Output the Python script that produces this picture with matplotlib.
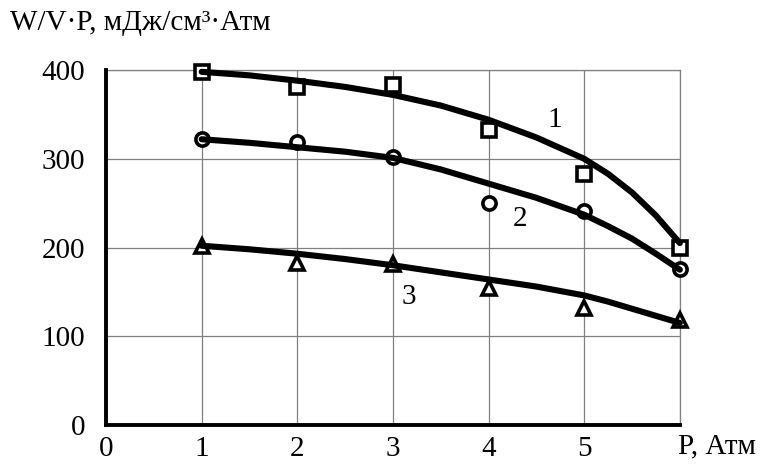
import matplotlib
matplotlib.use("Agg")
import matplotlib.pyplot as plt

plt.rcParams["font.family"] = ["Liberation Serif", "DejaVu Serif"]

# measured points
p = [1, 2, 3, 4, 5, 6]
w1 = [398, 381, 383, 332, 283, 199]
w2 = [322, 319, 302, 250, 241, 176]
w3 = [202, 182, 181, 154, 132, 118]

# fitted curves
p_fit = [1, 1.5, 2, 2.5, 3, 3.5, 4, 4.5, 5, 5.25, 5.5, 5.75, 6]
fit1 = [398, 394, 388, 381, 372, 360, 344, 324, 300, 283, 262, 236, 205]
fit2 = [322, 318, 313, 308, 301, 288, 272, 256, 237, 224, 210, 193, 175]
fit3 = [202, 198, 193, 187, 180, 172, 164, 156, 146, 139, 131, 123, 115]

curve_labels = ["1", "2", "3"]
label_pos = [(4.69, 344), (4.33, 232), (3.17, 144)]

xtick_labels = ["0", "1", "2", "3", "4", "5"]
y_label = "W/V·P, мДж/см³·Атм"
x_label = "P, Атм"

fig = plt.figure(figsize=(7.63, 4.72), dpi=100)
ax = fig.add_axes([0.139, 0.0996, 0.752, 0.752])

for xs, ys, m, ms in [(p, w1, "s", 10), (p, w2, "o", 9.5), (p, w3, "^", 10)]:
    ax.plot(xs, ys, linestyle="none", marker=m, markersize=ms,
            markerfacecolor="white", markeredgecolor="black",
            markeredgewidth=2.6, zorder=3, clip_on=False)
for ys in (fit1, fit2, fit3):
    ax.plot(p_fit, ys, color="black", linewidth=4.4,
            solid_capstyle="round", solid_joinstyle="round", zorder=4,
            clip_on=False)

for txt, (x, y) in zip(curve_labels, label_pos):
    ax.text(x, y, txt, fontsize=21, ha="center", va="center")

ax.set_xlim(0, 6)
ax.set_ylim(0, 400)
ax.set_xticks(range(7))
ax.set_xticklabels(xtick_labels + [""])
ax.set_yticks([0, 100, 200, 300, 400])
ax.tick_params(length=0, labelsize=21)
ax.tick_params(axis="x", pad=8)
ax.tick_params(axis="y", pad=15)
ax.grid(True, color="#808080", linewidth=0.9)
ax.set_axisbelow(True)
for s in ("top", "right"):
    ax.spines[s].set_visible(False)
for s in ("left", "bottom"):
    ax.spines[s].set_linewidth(2.8)
    ax.spines[s].set_zorder(5)
ax.axhline(400, color="#808080", linewidth=0.9, clip_on=False, zorder=1)
ax.axvline(6, color="#808080", linewidth=0.9, clip_on=False, zorder=1)

ax.text(5.98, -9, x_label, fontsize=21, ha="left", va="top",
        transform=ax.transData)
fig.text(0.013, 0.952, y_label, fontsize=21, ha="left", va="center")

fig.savefig("out.png", dpi=100)
